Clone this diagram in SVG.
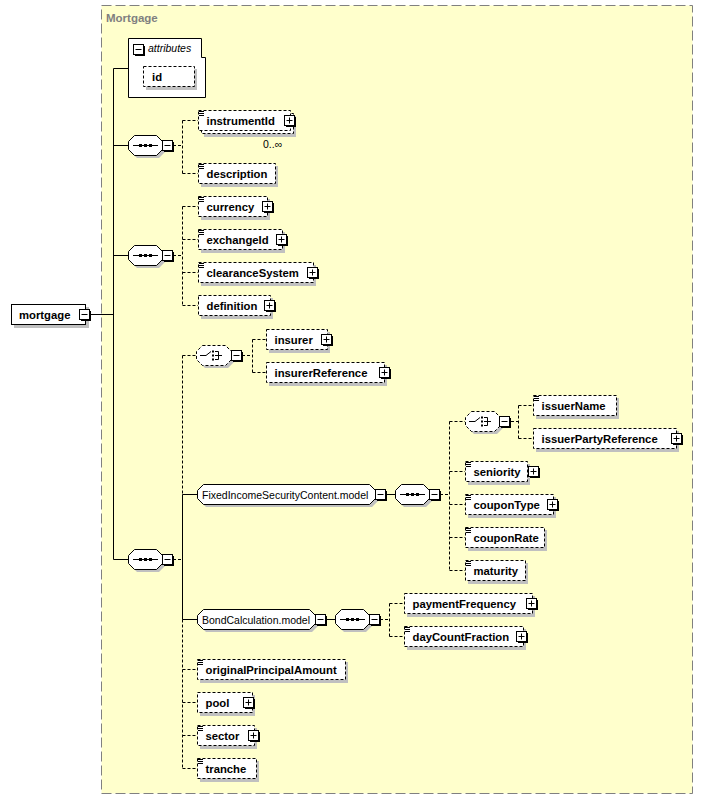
<svg xmlns="http://www.w3.org/2000/svg" xmlns:xlink="http://www.w3.org/1999/xlink" width="703" height="799" viewBox="0 0 703 799">
<style>
.sh{fill:#c0c0c0}
.bx{fill:#fff;stroke:#000}
.dbx{fill:#fff;stroke:#000;stroke-dasharray:3,2}
.ln{fill:none;stroke:#000}
.dl{fill:none;stroke:#000;stroke-dasharray:3,2}
.lb{font-family:"Liberation Sans",Arial,sans-serif;font-weight:bold;font-size:11.3px;fill:#000}
.lr{font-family:"Liberation Sans",Arial,sans-serif;font-size:10.5px;fill:#000}
</style>
<defs>
<g id="minus"><rect x="2" y="2" width="10" height="10" fill="#000"/><rect class="bx" x="0.5" y="0.5" width="10" height="10"/><path class="ln" d="M2.5,5.5H8.5"/></g>
<g id="plus"><rect x="2" y="2" width="10" height="10" fill="#000"/><rect class="bx" x="0.5" y="0.5" width="10" height="10"/><path class="ln" d="M2.5,5.5H8.5M5.5,2.5V8.5"/></g>
<path id="icon" class="ln" d="M1,1.5H6M1,3.5H6M1,5.5H6"/>
<g id="seq">
<polygon class="sh" points="9,3 31,3 37,9 37,17 31,23 9,23 3,17 3,9"/>
<polygon class="bx" points="6.5,0.5 28.5,0.5 34.5,6.5 34.5,14.5 28.5,20.5 6.5,20.5 0.5,14.5 0.5,6.5"/>
<path class="ln" d="M5,10.5H30"/>
<rect x="11" y="9" width="3" height="3"/><rect x="16" y="9" width="3" height="3"/><rect x="21" y="9" width="3" height="3"/>
</g>
<g id="choice">
<polygon class="sh" points="9,3 32,3 38,9 38,17 32,23 9,23 3,17 3,9"/>
<polygon class="dbx" points="6.5,0.5 29.5,0.5 35.5,6.5 35.5,14.5 29.5,20.5 6.5,20.5 0.5,14.5 0.5,6.5"/>
<path class="ln" d="M4,10.5H10L15,6.5M19,6.5H22.5V14.5H19M19,10.5H26"/>
<rect x="16" y="5.5" width="2" height="2"/><rect x="16" y="9.5" width="2" height="2"/><rect x="16" y="13.5" width="2" height="2"/>
</g>
</defs>

<rect id="mortgage-frame" x="101.5" y="5.5" width="591" height="788" fill="#FFFFCC" stroke="#808080" stroke-dasharray="10,4"/>
<text x="106" y="22" font-family="Liberation Sans, Arial, sans-serif" font-weight="bold" font-size="11.5" fill="#808080">Mortgage</text>

<g id="connectors">
<path class="ln" d="M90,314.5H113.5M113.5,68.5V559.5M113.5,68.5H128M113.5,145.5H128M113.5,255.5H128M113.5,559.5H128"/>
<path class="dl" d="M173,145.5H182.5M182.5,120.5V173.5M182.5,120.5H198M182.5,173.5H198"/>
<path class="dl" d="M173,255.5H182.5M182.5,206.5V305.5M182.5,206.5H198M182.5,239.5H198M182.5,272.5H198M182.5,305.5H198"/>
<path class="dl" d="M173,559.5H182.5"/>
<path class="dl" d="M182.5,355.5V494.5M182.5,619.5V768.5M182.5,355.5H196M182.5,669.5H197M182.5,702.5H197M182.5,735.5H197M182.5,768.5H197"/>
<path class="ln" d="M182.5,494.5V619.5M182.5,494.5H197M182.5,619.5H197"/>
<path class="dl" d="M242,355.5H252.5M252.5,339.5V372.5M252.5,339.5H266M252.5,372.5H266"/>
<path class="ln" d="M386,494.5H395"/>
<path class="dl" d="M440,494.5H449.5M449.5,421.5V570.5M449.5,421.5H465M449.5,471.5H465M449.5,504.5H465M449.5,537.5H465M449.5,570.5H465"/>
<path class="dl" d="M511,421.5H518.5M518.5,405.5V438.5M518.5,405.5H533M518.5,438.5H533"/>
<path class="ln" d="M326,619.5H335"/>
<path class="dl" d="M380,619.5H389.5M389.5,603.5V636.5M389.5,603.5H404M389.5,636.5H404"/>
</g>

<g id="node-mortgage">
<rect class="sh" x="14" y="307" width="75" height="21"/>
<rect class="bx" x="11.5" y="304.5" width="74" height="20"/>
<text class="lb" x="19" y="318.5">mortgage</text>
<use xlink:href="#minus" x="79" y="309"/>
</g>

<g id="node-attributes">
<path class="bx" d="M128.5,38.5H201.5V57.5H205.5V97.5H128.5Z"/>
<use xlink:href="#minus" x="133" y="44"/>
<text x="148" y="52" font-family="Liberation Sans, Arial, sans-serif" font-style="italic" font-size="10.5">attributes</text>
<rect class="sh" x="146" y="69" width="51" height="21"/>
<rect class="dbx" x="143.5" y="66.5" width="51" height="20"/>
<text class="lb" x="152" y="80.5">id</text>
</g>

<g id="node-seq1"><use xlink:href="#seq" x="128" y="135"/><use xlink:href="#minus" x="162" y="140"/></g>
<g id="node-seq2"><use xlink:href="#seq" x="128" y="245"/><use xlink:href="#minus" x="162" y="250"/></g>
<g id="node-seq3"><use xlink:href="#seq" x="128" y="549"/><use xlink:href="#minus" x="162" y="554"/></g>

<g id="node-instrumentId">
<rect class="sh" x="204" y="116" width="92" height="21"/>
<rect class="dbx" x="201.5" y="113.5" width="92" height="20"/>
<rect class="dbx" x="198.5" y="110.5" width="92" height="20"/>
<use xlink:href="#icon" x="198" y="110"/>
<text class="lb" x="206.5" y="124.5">instrumentId</text>
<use xlink:href="#plus" x="284" y="115"/>
<text class="lr" x="263" y="148">0..∞</text>
</g>
<g id="node-description">
<rect class="sh" x="201" y="166" width="77" height="21"/>
<rect class="dbx" x="198.5" y="163.5" width="77" height="20"/>
<use xlink:href="#icon" x="198" y="163"/>
<text class="lb" x="206.5" y="177.5">description</text>
</g>
<g id="node-currency">
<rect class="sh" x="201" y="199" width="69" height="21"/>
<rect class="dbx" x="198.5" y="196.5" width="69" height="20"/>
<use xlink:href="#icon" x="198" y="196"/>
<text class="lb" x="206.5" y="210.5">currency</text>
<use xlink:href="#plus" x="262" y="201"/>
</g>
<g id="node-exchangeId">
<rect class="sh" x="201" y="232" width="84" height="21"/>
<rect class="dbx" x="198.5" y="229.5" width="84" height="20"/>
<use xlink:href="#icon" x="198" y="229"/>
<text class="lb" x="206.5" y="243.5">exchangeId</text>
<use xlink:href="#plus" x="276" y="234"/>
</g>
<g id="node-clearanceSystem">
<rect class="sh" x="201" y="265" width="115" height="21"/>
<rect class="dbx" x="198.5" y="262.5" width="115" height="20"/>
<use xlink:href="#icon" x="198" y="262"/>
<text class="lb" x="206.5" y="276.5">clearanceSystem</text>
<use xlink:href="#plus" x="307" y="267"/>
</g>
<g id="node-definition">
<rect class="sh" x="201" y="298" width="72" height="21"/>
<rect class="dbx" x="198.5" y="295.5" width="72" height="20"/>
<text class="lb" x="206.5" y="309.5">definition</text>
<use xlink:href="#plus" x="264" y="300"/>
</g>

<g id="node-choice1"><use xlink:href="#choice" x="196" y="345"/><use xlink:href="#minus" x="231" y="350"/></g>
<g id="node-insurer">
<rect class="sh" x="269" y="332" width="61" height="21"/>
<rect class="dbx" x="266.5" y="329.5" width="61" height="20"/>
<text class="lb" x="274.5" y="343.5">insurer</text>
<use xlink:href="#plus" x="321" y="334"/>
</g>
<g id="node-insurerReference">
<rect class="sh" x="269" y="365" width="118" height="21"/>
<rect class="dbx" x="266.5" y="362.5" width="118" height="20"/>
<text class="lb" x="274.5" y="376.5">insurerReference</text>
<use xlink:href="#plus" x="379" y="367"/>
</g>

<g id="node-FixedIncomeSecurityContent">
<polygon class="sh" points="206,487 372,487 378,493 378,501 372,507 206,507 200,501 200,493"/>
<polygon class="bx" points="203.5,484.5 369.5,484.5 375.5,490.5 375.5,498.5 369.5,504.5 203.5,504.5 197.5,498.5 197.5,490.5"/>
<text class="lr" x="202" y="498.5">FixedIncomeSecurityContent.model</text>
<use xlink:href="#minus" x="375" y="489"/>
</g>
<g id="node-seq4"><use xlink:href="#seq" x="395" y="484"/><use xlink:href="#minus" x="429" y="489"/></g>
<g id="node-choice2"><use xlink:href="#choice" x="465" y="411"/><use xlink:href="#minus" x="499" y="416"/></g>
<g id="node-issuerName">
<rect class="sh" x="536" y="398" width="83" height="21"/>
<rect class="dbx" x="533.5" y="395.5" width="83" height="20"/>
<use xlink:href="#icon" x="533" y="395"/>
<text class="lb" x="541.5" y="409.5">issuerName</text>
</g>
<g id="node-issuerPartyReference">
<rect class="sh" x="536" y="431" width="143" height="21"/>
<rect class="dbx" x="533.5" y="428.5" width="143" height="20"/>
<text class="lb" x="541.5" y="442.5">issuerPartyReference</text>
<use xlink:href="#plus" x="671" y="433"/>
</g>
<g id="node-seniority">
<rect class="sh" x="468" y="464" width="62" height="21"/>
<rect class="dbx" x="465.5" y="461.5" width="62" height="20"/>
<use xlink:href="#icon" x="465" y="461"/>
<text class="lb" x="473.5" y="475.5">seniority</text>
<use xlink:href="#plus" x="528" y="466"/>
</g>
<g id="node-couponType">
<rect class="sh" x="468" y="497" width="88" height="21"/>
<rect class="dbx" x="465.5" y="494.5" width="88" height="20"/>
<use xlink:href="#icon" x="465" y="494"/>
<text class="lb" x="473.5" y="508.5">couponType</text>
<use xlink:href="#plus" x="547" y="499"/>
</g>
<g id="node-couponRate">
<rect class="sh" x="468" y="530" width="79" height="21"/>
<rect class="dbx" x="465.5" y="527.5" width="79" height="20"/>
<use xlink:href="#icon" x="465" y="527"/>
<text class="lb" x="473.5" y="541.5">couponRate</text>
</g>
<g id="node-maturity">
<rect class="sh" x="468" y="563" width="60" height="21"/>
<rect class="dbx" x="465.5" y="560.5" width="60" height="20"/>
<use xlink:href="#icon" x="465" y="560"/>
<text class="lb" x="473.5" y="574.5">maturity</text>
</g>

<g id="node-BondCalculation">
<polygon class="sh" points="206,612 312,612 318,618 318,626 312,632 206,632 200,626 200,618"/>
<polygon class="bx" points="203.5,609.5 309.5,609.5 315.5,615.5 315.5,623.5 309.5,629.5 203.5,629.5 197.5,623.5 197.5,615.5"/>
<text class="lr" x="202" y="623.5">BondCalculation.model</text>
<use xlink:href="#minus" x="315" y="614"/>
</g>
<g id="node-seq5"><use xlink:href="#seq" x="335" y="609"/><use xlink:href="#minus" x="369" y="614"/></g>
<g id="node-paymentFrequency">
<rect class="sh" x="407" y="596" width="128" height="21"/>
<rect class="dbx" x="404.5" y="593.5" width="128" height="20"/>
<text class="lb" x="412.5" y="607.5">paymentFrequency</text>
<use xlink:href="#plus" x="526" y="598"/>
</g>
<g id="node-dayCountFraction">
<rect class="sh" x="407" y="629" width="119" height="21"/>
<rect class="dbx" x="404.5" y="626.5" width="119" height="20"/>
<use xlink:href="#icon" x="404" y="626"/>
<text class="lb" x="412.5" y="640.5">dayCountFraction</text>
<use xlink:href="#plus" x="516" y="631"/>
</g>

<g id="node-originalPrincipalAmount">
<rect class="sh" x="200" y="662" width="148" height="21"/>
<rect class="dbx" x="197.5" y="659.5" width="148" height="20"/>
<use xlink:href="#icon" x="197" y="659"/>
<text class="lb" x="205.5" y="673.5">originalPrincipalAmount</text>
</g>
<g id="node-pool">
<rect class="sh" x="200" y="695" width="55" height="21"/>
<rect class="dbx" x="197.5" y="692.5" width="55" height="20"/>
<text class="lb" x="205.5" y="706.5">pool</text>
<use xlink:href="#plus" x="243" y="697"/>
</g>
<g id="node-sector">
<rect class="sh" x="200" y="728" width="57" height="21"/>
<rect class="dbx" x="197.5" y="725.5" width="57" height="20"/>
<use xlink:href="#icon" x="197" y="725"/>
<text class="lb" x="205.5" y="739.5">sector</text>
<use xlink:href="#plus" x="248" y="730"/>
</g>
<g id="node-tranche">
<rect class="sh" x="200" y="761" width="59" height="21"/>
<rect class="dbx" x="197.5" y="758.5" width="59" height="20"/>
<use xlink:href="#icon" x="197" y="758"/>
<text class="lb" x="205.5" y="772.5">tranche</text>
</g>
</svg>
